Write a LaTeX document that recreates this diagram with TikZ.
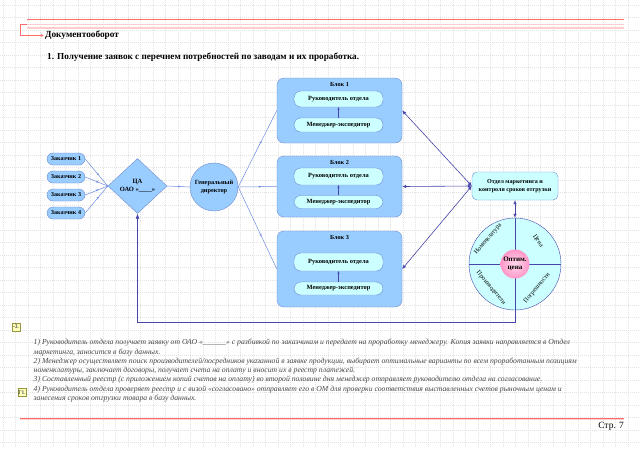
\documentclass[tikz,border=0pt]{standalone}
\usepackage{fontspec}
\setmainfont{Liberation Serif}
\usepackage{tikz}
\usetikzlibrary{arrows.meta,positioning,shapes.geometric,decorations.markings}
\usepackage{xcolor}
\definecolor{blkfill}{RGB}{153,204,255}
\definecolor{blkdraw}{RGB}{110,140,210}
\definecolor{cyanfill}{RGB}{204,255,255}
\definecolor{navyln}{RGB}{70,70,170}
\definecolor{linkblue}{RGB}{110,140,225}
\definecolor{redln}{RGB}{255,110,110}
\definecolor{pinkln}{RGB}{255,205,205}
\definecolor{pinkfill}{RGB}{255,150,200}
\definecolor{notegray}{RGB}{70,70,70}
\definecolor{tagfill}{RGB}{255,255,190}
\definecolor{tagdraw}{RGB}{150,150,60}
\tikzset{
  gridln/.style={draw=gray!22, line width=0.4pt, dash pattern=on 1pt off 1pt},
  cust/.style={draw=blkdraw, fill=blkfill, rounded corners=6pt, minimum width=38pt, minimum height=12pt, inner sep=0pt, font=\fontsize{6.1}{7}\selectfont\bfseries},
  diam/.style={draw=blkdraw, fill=blkfill, diamond, aspect=1, minimum width=59pt, minimum height=55pt, inner sep=0pt, align=center, font=\fontsize{6.5}{7.5}\selectfont\bfseries},
  boss/.style={draw=blkdraw, fill=blkfill, circle, minimum size=48pt, inner sep=0pt, align=center, font=\fontsize{6.3}{8}\selectfont\bfseries},
  blk/.style={draw=blkdraw, fill=blkfill, rounded corners=7pt, minimum width=125pt, inner sep=0pt},
  btitle/.style={font=\fontsize{6.2}{7}\selectfont\bfseries},
  inbox/.style={draw=blkdraw, fill=cyanfill, rounded corners=7pt, minimum width=89pt, inner sep=0pt, font=\fontsize{6.4}{7.5}\selectfont\bfseries},
  mkt/.style={draw=blkdraw, fill=cyanfill, rounded corners=5pt, minimum width=86pt, minimum height=28pt, inner sep=0pt, align=center, font=\fontsize{6.1}{8.5}\selectfont\bfseries},
  wheel/.style={draw=navyln, fill=cyanfill, circle, minimum size=92pt, inner sep=0pt},
  opt/.style={circle, minimum size=29pt, inner sep=0pt, inner color=pinkfill!35, outer color=pinkfill, align=center, font=\fontsize{7}{8.5}\selectfont\bfseries},
  qlab/.style={inner sep=0.5pt, font=\fontsize{6.4}{7.5}\selectfont},
  link/.style={draw=linkblue, line width=0.5pt, postaction={decorate},
    decoration={markings, mark=at position 0.6 with {\arrow{Stealth[length=2.5pt,width=2.2pt]}}}},
  dlink/.style={draw=navyln, line width=0.6pt, {Latex[length=4pt,width=3.5pt]}-{Latex[length=4pt,width=3.5pt]}},
  uparr/.style={draw=navyln, line width=0.5pt, -{Stealth[length=2.5pt,width=2.2pt]}},
  fback/.style={draw=navyln, line width=0.7pt, -{Latex[length=5pt,width=4pt]}},
  redl/.style={draw=redln, line width=0.8pt},
  pinkl/.style={draw=pinkln, line width=1.6pt},
  tag/.style={draw=tagdraw, fill=tagfill, minimum size=8pt, inner sep=0.5pt, font=\fontsize{5.5}{6}\selectfont},
  note/.style={text=notegray, align=left, anchor=north west, inner sep=0pt, font=\fontsize{7.7}{9.3}\selectfont\itshape}
}
\begin{document}
\begin{tikzpicture}[x=1pt,y=-1pt]
\useasboundingbox (0,0) rectangle (640,448);
\fill[white] (0,0) rectangle (640,448);

% Grid
\foreach \gx in {3,15.5,...,640}{
  \draw[gridln] (\gx,0) -- (\gx,448);
}
\foreach \gy in {5,17.5,...,448}{
  \draw[gridln] (0,\gy) -- (640,\gy);
}

% Header lines
\draw[redl] (27,19) -- (624,19);
\draw[pinkl] (27,24.5) -- (624,24.5);
\draw[pinkl] (27,28) -- (624,28);
\node[anchor=west, inner sep=1pt, font=\fontsize{9.3}{10}\selectfont\bfseries] (doc) at (44,35.5) {Документооборот};
\draw[redl, -{Latex[length=3pt,width=3pt]}] (27,24) -- (20,24) |- (doc.west);
\node[anchor=west, inner sep=0pt, font=\fontsize{9.2}{10}\selectfont\bfseries] (ttl) at (47,57) {1. Получение заявок с перечнем потребностей по заводам и их проработка.};

% Customers and CA
\node[cust] (z1) at (66,159) {Заказчик 1};
\node[cust] (z2) at (66,177) {Заказчик 2};
\node[cust] (z3) at (66,195) {Заказчик 3};
\node[cust] (z4) at (66,213) {Заказчик 4};
\node[diam] (ca) at (137.5,186) {ЦА\\ОАО «\_\_\_\_»};
\node[boss] (gd) at (214,187) {Генеральный\\директор};

% Blocks
\node[blk, minimum height=65pt] (b1) at (339.5,110.5) {};
\node[blk, minimum height=61pt] (b2) at (339.5,186.5) {};
\node[blk, minimum height=76pt] (b3) at (339.5,269) {};
\foreach \i in {1,2,3}{
  \node[btitle, below=1.5pt of b\i.north] (t\i) {Блок \i};
}
\node[inbox, minimum height=16pt] (r1) at (338.5,99) {Руководитель отдела};
\node[inbox, minimum height=14pt] (m1) at (338.5,125) {Менеджер-экспедитор};
\node[inbox, minimum height=17pt] (r2) at (338.5,176.5) {Руководитель отдела};
\node[inbox, minimum height=13pt] (m2) at (338.5,202) {Менеджер-экспедитор};
\node[inbox, minimum height=18pt] (r3) at (338.5,262) {Руководитель отдела};
\node[inbox, minimum height=13pt] (m3) at (338.5,288.5) {Менеджер-экспедитор};

% Marketing and price wheel
\node[mkt] (om) at (515,186) {Отдел маркетинга и\\контроля сроков отгрузки};
\node[wheel] (wh) at (515,264) {};
\draw[navyln, line width=0.6pt] (wh.north) -- (wh.south);
\draw[navyln, line width=0.6pt] (wh.west) -- (wh.east);
\node[opt] (oc) at (wh.center) {Оптим.\\цена};
\node[qlab, rotate=50] (qn) at (488,239) {Номенклатура};
\node[qlab, rotate=-55] (qc) at (538,241) {Цена};
\node[qlab, rotate=-50] (qp) at (491,288) {Производители};
\node[qlab, rotate=50] (qe) at (537,288) {Погрешности};

% Connectors
\foreach \i in {1,...,4}{
  \draw[link] (z\i.east) -- (ca.west);
}
\draw[link] (ca.east) -- (gd.west);
\foreach \i in {1,2,3}{
  \draw[link] (gd.east) -- (b\i.west);
  \draw[uparr] (m\i.north) -- (r\i.south);
  \draw[dlink] (om.west) -- (b\i.east);
}
\draw[dlink] (om.south) -- (wh.north);
\draw[fback] (wh.south) -- ++(0,12) -| (ca.south);

% Notes
\node[tag] (tg3) at (16,327) {-3.};
\node[note] (txt) at (33.5,339) {1) Руководитель отдела получает заявку от ОАО «\_\_\_\_\_\_» с разбивкой по заказчикам и передает на проработку менеджеру. Копия заявки направляется в Отдел\\
маркетинга, заносится в базу данных.\\
2) Менеджер осуществляет поиск производителей/посредников указанной в заявке продукции, выбирает оптимальные варианты по всем проработанным позициям\\
номенклатуры, заключает договоры, получает счета на оплату и вносит их в реестр платежей.\\
3) Составленный реестр (с приложением копий счетов на оплату) во второй половине дня менеджер отправляет руководителю отдела на согласование.\\
4) Руководитель отдела проверяет реестр и с визой «согласовано» отправляет его в ОМ для проверки соответствия выставленных счетов рыночным ценам и\\
занесения сроков отгрузки товара в базу данных.};
\node[tag] (tg1) at (22,392.5) {Г1.};

% Footer
\draw[pinkl] (20,419) -- (624,419);
\draw[redl, line width=0.5pt] (20,418) -- (624,418);
\node[anchor=east, inner sep=0pt, font=\fontsize{9.5}{10}\selectfont] (pg) at (624,426.5) {Стр. 7};
\end{tikzpicture}
\end{document}
